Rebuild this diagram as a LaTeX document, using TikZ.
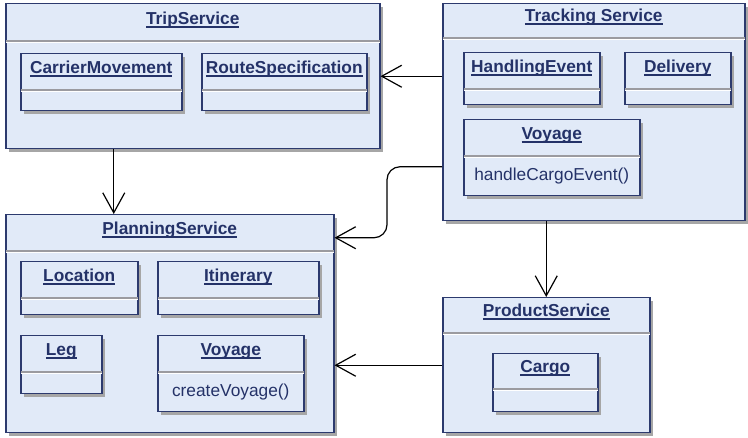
\documentclass[tikz,border=0pt]{standalone}
\usepackage{fontspec}
\setmainfont{Liberation Sans}
\usetikzlibrary{arrows.meta,shadows}
\definecolor{boxfill}{RGB}{225,234,248}
\definecolor{boxline}{RGB}{44,58,110}
\definecolor{boxtext}{RGB}{36,50,104}
\definecolor{sepgray}{RGB}{155,155,160}
\newcommand\ulname[1]{\setbox0\hbox{#1}\rlap{\rule[-2.6pt]{\wd0}{1.1pt}}\box0}
% box with a name compartment: name, x, y, width, height, separator offset, title
\newcommand\umlbox[7]{%
  \node[umlbox, minimum width=#4, minimum height=#5] (#1) at (#2,#3) {};
  \node[head] (#1-name) at ([yshift=-#6pt+16pt]#1.north) {\ulname{#7}};
  \draw[sepline] ([xshift=1pt,yshift=-#6pt]#1.north west) -- ([xshift=-1pt,yshift=-#6pt]#1.north east);
  \draw[sepwhite] ([xshift=1pt,yshift=-#6pt-1.6pt]#1.north west) -- ([xshift=-1pt,yshift=-#6pt-1.6pt]#1.north east);
}

\begin{document}
\begin{tikzpicture}[x=1pt,y=-1pt,
    umlbox/.style={draw=boxline,line width=1.5pt,fill=boxfill,anchor=north west,inner sep=0pt,
      general shadow={fill=black!35,shadow xshift=3.5pt,shadow yshift=-3.5pt}},
    head/.style={anchor=base,inner sep=0pt,text=boxtext,font=\fontsize{17.3}{20}\selectfont\bfseries},
    meth/.style={anchor=base,inner sep=0pt,text=boxtext,font=\fontsize{17.3}{20}\selectfont},
    sepline/.style={sepgray,line width=1.1pt},
    sepwhite/.style={white,line width=1.3pt},
    dep/.style={line width=1.2pt,-{Straight Barb[length=20pt,width=22pt]}}]
  \useasboundingbox (0,0) rectangle (748,438);

  % packages
  \umlbox{trip}{5}{3}{374}{145}{38}{TripService}
  \umlbox{track}{442}{3}{302}{217}{35}{Tracking Service}
  \umlbox{plan}{5}{214}{328}{218}{37}{PlanningService}
  \umlbox{prod}{442}{297}{207}{135}{36}{ProductService}

  % classes
  \umlbox{carrier}{20}{53}{161}{57}{37}{CarrierMovement}
  \umlbox{route}{201}{53}{165}{57}{37}{RouteSpecification}
  \umlbox{handling}{463}{52}{136}{52}{37}{HandlingEvent}
  \umlbox{delivery}{624}{52}{106}{52}{37}{Delivery}
  \umlbox{tvoyage}{463}{119}{176}{76}{37}{Voyage}
  \node[meth] (tvoyage-op) at ([yshift=-62pt]tvoyage.north) {handleCargoEvent()};
  \umlbox{location}{20}{261}{117}{53}{37}{Location}
  \umlbox{itinerary}{157}{261}{161}{53}{37}{Itinerary}
  \umlbox{leg}{20}{335}{81}{58}{37}{Leg}
  \umlbox{pvoyage}{157}{335}{146}{76}{37}{Voyage}
  \node[meth] (pvoyage-op) at ([yshift=-62pt]pvoyage.north) {createVoyage()};
  \umlbox{cargo}{492}{353}{105}{58}{36}{Cargo}

  % dependencies
  \draw[dep] (track.west |- trip.east) -- (trip.east);
  \draw[dep] ([xshift=-79pt]trip.south) -- ([xshift=-79pt]trip.south |- plan.north);
  \draw[dep] (track.south -| prod.north) -- (prod.north);
  \draw[dep] (prod.west) -- (prod.west -| plan.east);
  \coordinate (bend) at (387,200);
  \draw[dep,rounded corners=13pt] ([yshift=-54.5pt]track.west) -| (bend) |- ([yshift=86pt]plan.east);
\end{tikzpicture}
\end{document}
